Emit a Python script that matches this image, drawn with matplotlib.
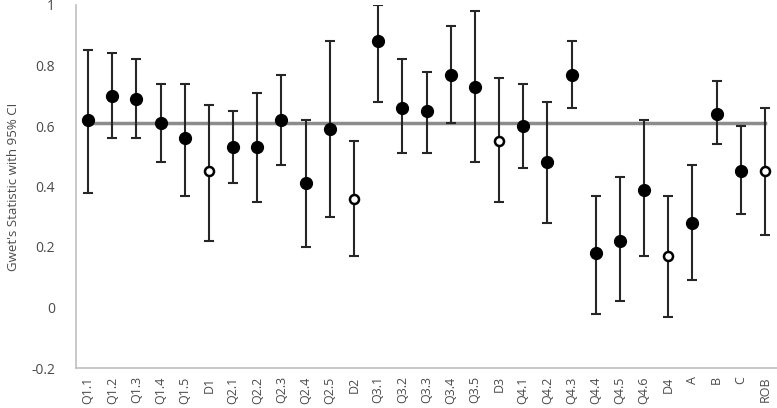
import matplotlib.pyplot as plt

labels = ['Q1.1', 'Q1.2', 'Q1.3', 'Q1.4', 'Q1.5', 'D1',
          'Q2.1', 'Q2.2', 'Q2.3', 'Q2.4', 'Q2.5', 'D2',
          'Q3.1', 'Q3.2', 'Q3.3', 'Q3.4', 'Q3.5', 'D3',
          'Q4.1', 'Q4.2', 'Q4.3', 'Q4.4', 'Q4.5', 'Q4.6', 'D4',
          'A', 'B', 'C', 'ROB']
gwet = [0.62, 0.70, 0.69, 0.61, 0.56, 0.45,
        0.53, 0.53, 0.62, 0.41, 0.59, 0.36,
        0.88, 0.66, 0.65, 0.77, 0.73, 0.55,
        0.60, 0.48, 0.77, 0.18, 0.22, 0.39, 0.17,
        0.28, 0.64, 0.45, 0.45]
lower = [0.38, 0.56, 0.56, 0.48, 0.37, 0.22,
         0.41, 0.35, 0.47, 0.20, 0.30, 0.17,
         0.68, 0.51, 0.51, 0.61, 0.48, 0.35,
         0.46, 0.28, 0.66, -0.02, 0.02, 0.17, -0.03,
         0.09, 0.54, 0.31, 0.24]
upper = [0.85, 0.84, 0.82, 0.74, 0.74, 0.67,
         0.65, 0.71, 0.77, 0.62, 0.88, 0.55,
         1.00, 0.82, 0.78, 0.93, 0.98, 0.76,
         0.74, 0.68, 0.88, 0.37, 0.43, 0.62, 0.37,
         0.47, 0.75, 0.60, 0.66]
open_pts = ['D1', 'D2', 'D3', 'D4', 'ROB']
overall = 0.61

txt = '#4a4a4a'
plt.rcParams['font.family'] = ['Open Sans', 'DejaVu Sans']

fig = plt.figure(figsize=(7.77, 4.08), dpi=100)
ax = fig.add_axes([76/777, 1-368/408, 1-76/777, 363/408])

x = list(range(len(labels)))
ax.plot([x[0], x[-1]], [overall, overall], color='#8c8c8c', lw=2.5, zorder=1)

err_lo = [g - l for g, l in zip(gwet, lower)]
err_hi = [u - g for g, u in zip(gwet, upper)]
ax.errorbar(x, gwet, yerr=[err_lo, err_hi], fmt='none', ecolor='#262626',
            elinewidth=1.5, capsize=3.5, capthick=1.5, zorder=2)

fx = [i for i, l in enumerate(labels) if l not in open_pts]
ox = [i for i, l in enumerate(labels) if l in open_pts]
ax.plot(fx, [gwet[i] for i in fx], 'o', color='black', markersize=8.5, zorder=3)
ax.plot(ox, [gwet[i] for i in ox], 'o', markerfacecolor='white',
        markeredgecolor='black', markeredgewidth=1.8, markersize=6.5, zorder=3)

ax.set_xlim(-0.5, len(labels)-0.5)
ax.set_ylim(-0.2, 1.0)
ax.set_yticks([-0.2, 0, 0.2, 0.4, 0.6, 0.8, 1.0])
ax.set_yticklabels(['-0.2', '0', '0.2', '0.4', '0.6', '0.8', '1'])
ax.set_xticks(x)
ax.set_xticklabels(labels, rotation=90)
ax.tick_params(axis='y', length=0, pad=15, labelsize=10, labelcolor=txt)
ax.tick_params(axis='x', length=0, pad=6, labelsize=9, labelcolor=txt)
for s in ['top', 'right']:
    ax.spines[s].set_visible(False)
for s in ['left', 'bottom']:
    ax.spines[s].set_color('#bfbfbf')
    ax.spines[s].set_linewidth(1.2)
ax.set_ylabel("Gwet's Statistic with 95% CI", fontsize=9.5, color=txt, labelpad=8)

fig.savefig('out.png', dpi=100)
